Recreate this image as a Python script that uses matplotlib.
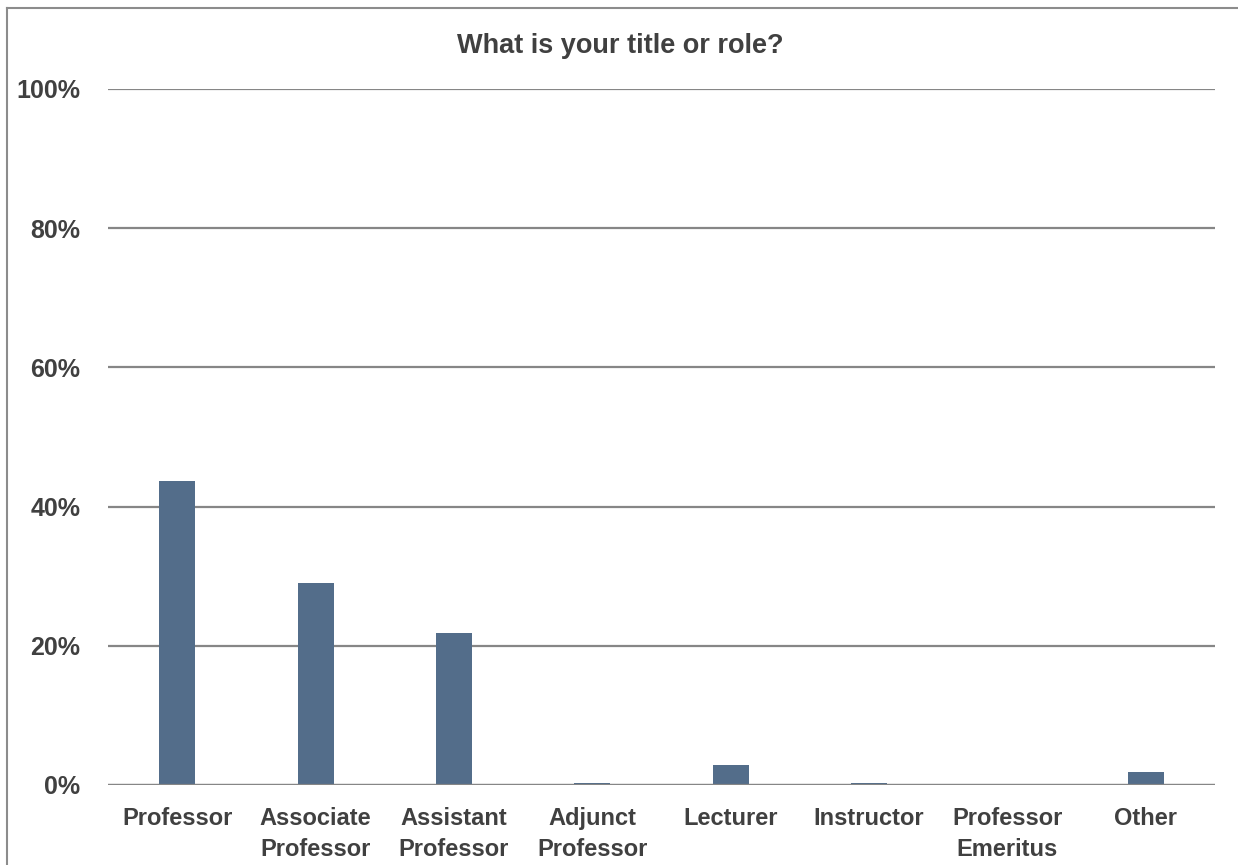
import matplotlib
matplotlib.use("Agg")
import matplotlib.pyplot as plt
from matplotlib.lines import Line2D
import numpy as np

# survey answers
categories = ["Professor", "Associate\nProfessor", "Assistant\nProfessor", "Adjunct\nProfessor",
              "Lecturer", "Instructor", "Professor\nEmeritus", "Other"]
shares = [43.7, 29.0, 21.8, 0.3, 2.9, 0.3, 0.0, 1.9]
yticks = [0, 20, 40, 60, 80, 100]
ytick_labels = ["0%", "20%", "40%", "60%", "80%", "100%"]

txt = "#404040"
plt.rcParams['font.family'] = ['Liberation Sans', 'DejaVu Sans']
plt.rcParams['font.weight'] = 'bold'

fig = plt.figure(figsize=(12.38, 8.65), dpi=100)
ax = fig.add_axes([108/1238, 1 - 785/865, (1215-108)/1238, (785-89)/865])

x = np.arange(len(categories))
ax.bar(x, shares, width=0.26, color="#536d8a", zorder=3)

ax.set_xlim(-0.5, len(categories) - 0.5)
ax.set_ylim(0, 100)
ax.set_yticks(yticks)
ax.set_yticklabels(ytick_labels, fontsize=18, color=txt)
ax.set_xticks(x)
ax.set_xticklabels(categories, fontsize=17, color=txt, linespacing=1.45)
ax.tick_params(length=0)
ax.tick_params(axis='y', pad=20)
ax.tick_params(axis='x', pad=16)
ax.grid(axis='y', color="#868686", linewidth=1.6, zorder=0)
for s in ax.spines.values():
    s.set_visible(False)
ax.axhline(0, color="#868686", linewidth=1.6, zorder=4)

fig.text(620/1238, 1 - 46/865, "What is your title or role?", ha='center', va='center',
         fontsize=19.5, color=txt, fontweight='bold')

# chart frame (top and left edges only are visible)
fig.add_artist(Line2D([7/1238, 1], [1 - 8/865, 1 - 8/865], color="#8c8c8c", linewidth=1.5))
fig.add_artist(Line2D([7/1238, 7/1238], [0, 1 - 8/865], color="#8c8c8c", linewidth=1.5))

fig.savefig("out.png", dpi=100)
